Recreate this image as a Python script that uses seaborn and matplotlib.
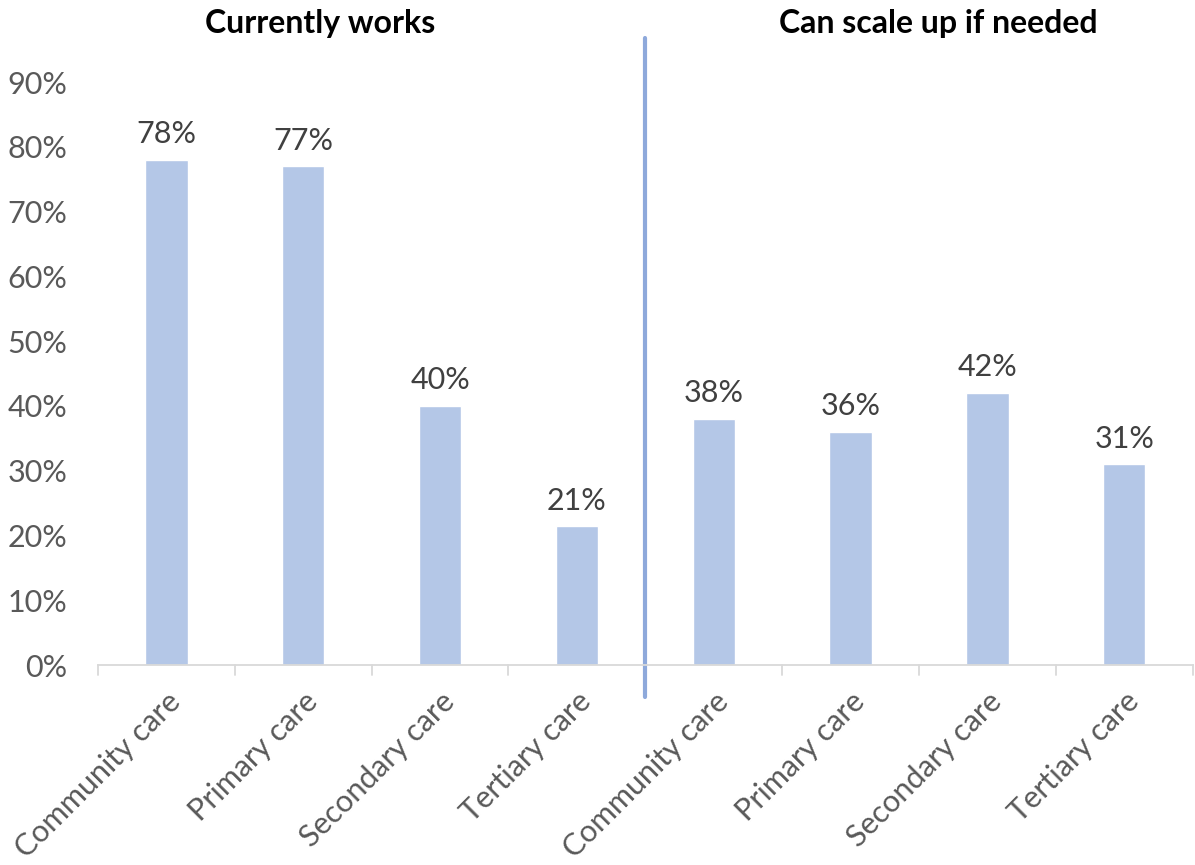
import matplotlib
matplotlib.use("Agg")
import matplotlib.pyplot as plt
import seaborn as sns
import pandas as pd
from matplotlib.ticker import FuncFormatter

categories = ["Community care", "Primary care", "Secondary care", "Tertiary care",
              "Community care ", "Primary care ", "Secondary care ", "Tertiary care "]
values = [78, 77, 40, 21.4, 38, 36, 42, 31]
group_titles = ["Currently works", "Can scale up if needed"]
yticks = [0, 10, 20, 30, 40, 50, 60, 70, 80, 90]

sns.set_theme(style="white")
plt.rcParams['font.family'] = ['Lato', 'DejaVu Sans']

df = pd.DataFrame({"cat": categories, "val": values})

fig = plt.figure(figsize=(11.95, 8.65), dpi=100)
ax = fig.add_axes([0.082, 0.2312, 0.916, 0.905 - 0.2312])

sns.barplot(data=df, x="cat", y="val", color="#B4C7E7", saturation=1, width=0.31, ax=ax)

ax.set_ylim(0, 90)
ax.set_xlim(-0.5, len(categories) - 0.5)
ax.set_yticks(yticks)
ax.yaxis.set_major_formatter(FuncFormatter(lambda v, p: f"{v:.0f}%"))
ax.tick_params(axis='y', length=0, labelsize=22, labelcolor="#595959", pad=22)
ax.set_xlabel("")
ax.set_ylabel("")

# category labels
ax.set_xticks(range(len(categories)))
ax.set_xticklabels([c.strip() for c in categories], rotation=45, ha='right',
                   rotation_mode='anchor', fontsize=22, color="#595959")
ax.tick_params(axis='x', length=0, pad=16)
# boundary tick marks
for b in [i - 0.5 for i in range(len(categories) + 1)]:
    ax.plot([b, b], [0, -0.017], transform=ax.get_xaxis_transform(),
            color="#D9D9D9", lw=1.3, clip_on=False)

for s in ["left", "right", "top"]:
    ax.spines[s].set_visible(False)
ax.spines["bottom"].set_color("#D9D9D9")
ax.spines["bottom"].set_linewidth(1.3)

for i, v in enumerate(values):
    ax.text(i, v + 1.8, f"{v:.0f}%", ha='center', va='bottom', fontsize=22, color="#404040")

# divider
ax.plot([3.5, 3.5], [-0.055, 1.075], transform=ax.get_xaxis_transform(),
        color="#8EA9DB", lw=3, clip_on=False)

fig.text(320 / 1195, 1 - 24 / 865, group_titles[0], ha='center', va='center',
         fontsize=23, fontweight='bold', color="black")
fig.text(938 / 1195, 1 - 24 / 865, group_titles[1], ha='center', va='center',
         fontsize=23, fontweight='bold', color="black")

fig.savefig("out.png", dpi=100, facecolor="white")
